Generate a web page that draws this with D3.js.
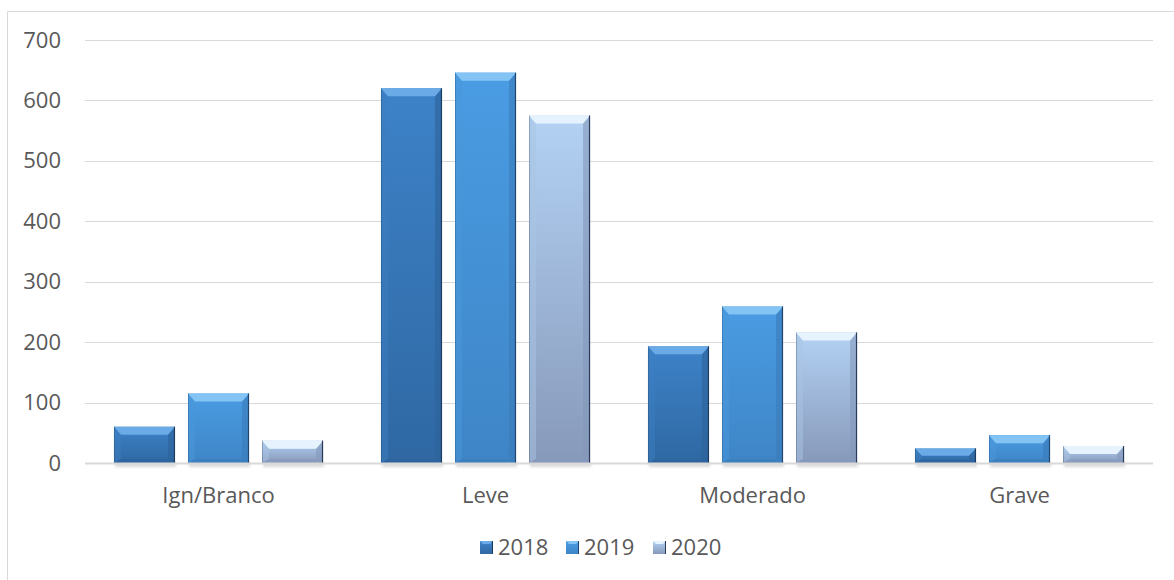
<!DOCTYPE html>
<html>
<head>
<meta charset="utf-8">
<script src="https://cdn.jsdelivr.net/npm/d3@7"></script>
<style>
  html, body { margin: 0; padding: 0; background: #fff; }
  svg { display: block; font-family: "Open Sans", "Noto Sans", sans-serif; }
</style>
</head>
<body>
<svg id="chart" width="1174" height="580"></svg>
<script>
// Categories, series and values
const categories = ["Ign/Branco", "Leve", "Moderado", "Grave"];
const seriesNames = ["2018", "2019", "2020"];
const values2018 = [60, 620, 193, 24];
const values2019 = [115, 646, 259, 46];
const values2020 = [37, 575, 216, 28];
const yTicks = [0, 100, 200, 300, 400, 500, 600, 700];

const seriesValues = [values2018, values2019, values2020];

// Bevel palettes per series: face gradient, top/left/right/bottom facets, edge
const palettes = [
  { faceTop: "#3d82c8", faceBot: "#2f68a3", top: "#6aaae6", left: "#3c7ec0", right: "#2d6299", bottom: "#2e6399", edge: "#1d3c60" },
  { faceTop: "#4a9ce3", faceBot: "#3e85c6", top: "#84c4f5", left: "#4a98da", right: "#3b7cb9", bottom: "#3b7bb8", edge: "#21456e" },
  { faceTop: "#b3d2f4", faceBot: "#8799ba", top: "#e6f3ff", left: "#aac4e4", right: "#8398ba", bottom: "#8799ba", edge: "#2a3c58" }
];

const svg = d3.select("#chart");
const W = 1174, H = 580;
const FONT = "'Open Sans', 'Noto Sans', sans-serif";
const FS = 22;

// Chart area frame
svg.append("path")
  .attr("d", `M7.5,${H} L7.5,11.5 L${W},11.5`)
  .attr("fill", "none")
  .attr("stroke", "#d9d9d9")
  .attr("stroke-width", 1);

const plotLeft = 85, plotRight = 1153, plotTop = 40, plotBottom = 463;

const y = d3.scaleLinear().domain([0, 700]).range([plotBottom, plotTop]);
const x0 = d3.scaleBand().domain(categories).range([plotLeft, plotRight])
  .paddingInner(0.217).paddingOuter(0.1085);
const x1 = d3.scaleBand().domain(seriesNames).range([0, x0.bandwidth()])
  .paddingInner(0.176).paddingOuter(0);

// Gradients
const defs = svg.append("defs");
palettes.forEach((p, i) => {
  const g = defs.append("linearGradient").attr("id", "face" + i)
    .attr("x1", 0).attr("y1", 0).attr("x2", 0).attr("y2", 1);
  g.append("stop").attr("offset", "0%").attr("stop-color", p.faceTop);
  g.append("stop").attr("offset", "100%").attr("stop-color", p.faceBot);
});
const shadow = defs.append("filter").attr("id", "shadow")
  .attr("x", "-20%").attr("y", "-20%").attr("width", "140%").attr("height", "160%");
shadow.append("feGaussianBlur").attr("stdDeviation", 1.5);

// Gridlines
const grid = svg.append("g");
grid.selectAll("line").data(yTicks.filter(t => t > 0)).join("line")
  .attr("x1", plotLeft).attr("x2", plotRight)
  .attr("y1", d => Math.round(y(d)) + 0.5).attr("y2", d => Math.round(y(d)) + 0.5)
  .attr("stroke", "#d9d9d9").attr("stroke-width", 1);

// Y axis labels
const yAxis = d3.axisLeft(y).tickValues(yTicks).tickSize(0).tickPadding(0);
const yG = svg.append("g").attr("transform", "translate(61,0)").call(yAxis);
yG.select(".domain").remove();
yG.selectAll("text").attr("fill", "#595959").attr("font-size", FS)
  .attr("font-family", FONT);

// Bars with bevel facets
const bars = [];
categories.forEach((c, ci) => {
  seriesNames.forEach((s, si) => {
    bars.push({ cat: c, series: s, si, value: seriesValues[si][ci] });
  });
});

const barG = svg.append("g");
const groups = barG.selectAll("g.bar").data(bars).join("g").attr("class", "bar")
  .attr("transform", d => `translate(${x0(d.cat) + x1(d.series)},0)`);

const bw = x1.bandwidth();

// soft shadow under each bar
groups.append("rect")
  .attr("x", 1).attr("width", bw)
  .attr("y", plotBottom - 1).attr("height", 5)
  .attr("fill", "#bfbfbf").attr("opacity", 0.6)
  .attr("filter", "url(#shadow)");

groups.each(function(d) {
  const g = d3.select(this);
  const p = palettes[d.si];
  const top = y(d.value), bot = y(0), h = bot - top;
  const b = Math.min(8, h / 2), bs = Math.min(7, bw / 2);
  const pts = a => a.map(q => q.join(",")).join(" ");
  // face
  g.append("rect").attr("x", 0).attr("y", top).attr("width", bw).attr("height", h)
    .attr("fill", `url(#face${d.si})`);
  // left facet
  g.append("polygon").attr("points", pts([[0, top], [bs, top + b], [bs, bot - b * 0.5], [0, bot]]))
    .attr("fill", p.left).attr("opacity", 0.5);
  // right facet
  g.append("polygon").attr("points", pts([[bw, top], [bw - bs, top + b], [bw - bs, bot - b * 0.5], [bw, bot]]))
    .attr("fill", p.right).attr("opacity", 0.6);
  // bottom facet
  g.append("polygon").attr("points", pts([[0, bot], [bs, bot - b * 0.5], [bw - bs, bot - b * 0.5], [bw, bot]]))
    .attr("fill", p.bottom).attr("opacity", 0.6);
  // top facet
  g.append("polygon").attr("points", pts([[0, top], [bw, top], [bw - bs, top + b], [bs, top + b]]))
    .attr("fill", p.top);
  // right dark edge
  g.append("line").attr("x1", bw - 0.5).attr("x2", bw - 0.5).attr("y1", top).attr("y2", bot)
    .attr("stroke", p.edge).attr("stroke-width", 1.2);
  g.append("line").attr("x1", 0.5).attr("x2", 0.5).attr("y1", top).attr("y2", bot)
    .attr("stroke", p.edge).attr("stroke-width", 0.6).attr("opacity", 0.5);
});

// Baseline
svg.append("line")
  .attr("x1", plotLeft).attr("x2", plotRight)
  .attr("y1", y(0) + 0.5).attr("y2", y(0) + 0.5)
  .attr("stroke", "#d9d9d9").attr("stroke-width", 2);

// X axis labels
const xAxis = d3.axisBottom(x0).tickSize(0).tickPadding(0);
const xG = svg.append("g").attr("transform", `translate(0,${plotBottom + 24})`).call(xAxis);
xG.select(".domain").remove();
xG.selectAll("text").attr("fill", "#595959").attr("font-size", FS)
  .attr("font-family", FONT);

// Legend
const legendX = [480, 566, 653];
const legend = svg.append("g");
const items = legend.selectAll("g").data(seriesNames).join("g")
  .attr("transform", (d, i) => `translate(${legendX[i]},541)`);
items.each(function(d, i) {
  const g = d3.select(this), p = palettes[i], s = 13;
  g.append("rect").attr("width", s).attr("height", s).attr("fill", `url(#face${i})`);
  g.append("polygon").attr("points", `0,0 ${s},0 ${s - 3},3 3,3`).attr("fill", p.top);
  g.append("line").attr("x1", s - 0.5).attr("x2", s - 0.5).attr("y1", 0).attr("y2", s)
    .attr("stroke", p.edge).attr("stroke-width", 1);
  g.append("text").attr("x", s + 5).attr("y", s / 2).attr("dy", "0.36em")
    .attr("fill", "#595959").attr("font-size", FS).attr("font-family", FONT).text(d);
});
</script>
</body>
</html>
